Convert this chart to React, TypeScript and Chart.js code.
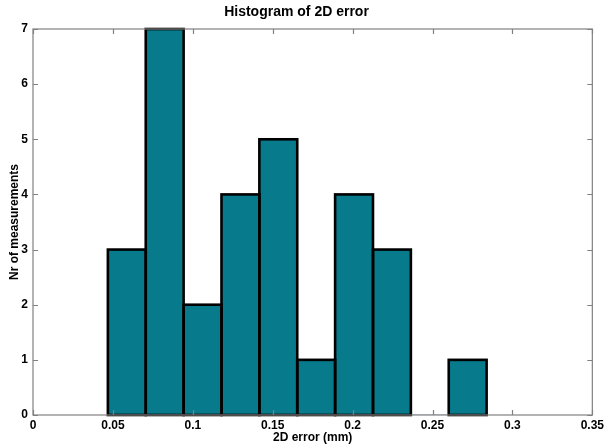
import React, { useEffect, useRef } from "react";
import { Chart, registerables } from "chart.js";

Chart.register(...registerables);

const binCenters = [0.0587, 0.0824, 0.1061, 0.1298, 0.1535, 0.1772, 0.2009, 0.2246, 0.2483, 0.2720];
const counts = [3, 7, 2, 4, 5, 1, 4, 3, 0, 1];
const xTicks = [0, 0.05, 0.1, 0.15, 0.2, 0.25, 0.3, 0.35];
const xTickLabels = ["0", "0.05", "0.1", "0.15", "0.2", "0.25", "0.3", "0.35"];
const yTicks = [0, 1, 2, 3, 4, 5, 6, 7];

const FONT = "'Liberation Sans', Arial, Helvetica, sans-serif";

const boxPlugin = {
  id: "matlabBox",
  afterDatasetsDraw(chart: any) {
    const ctx = chart.ctx;
    const meta = chart.getDatasetMeta(0);
    ctx.save();
    ctx.strokeStyle = "#000";
    ctx.lineWidth = 2.6;
    ctx.lineJoin = "miter";
    meta.data.forEach((el: any, i: number) => {
      if (!counts[i]) return;
      const p = el.getProps(["x", "y", "base", "width"], true);
      ctx.strokeRect(p.x - p.width / 2, p.y, p.width, p.base - p.y);
    });
    ctx.restore();
  },
  afterDraw(chart: any) {
    const { ctx, chartArea: a } = chart;
    const xs = chart.scales.x;
    const ys = chart.scales.y;
    ctx.save();
    ctx.strokeStyle = "#808080";
    ctx.lineWidth = 1.2;
    ctx.strokeRect(a.left, a.top, a.right - a.left, a.bottom - a.top);
    const L = 5;
    ctx.beginPath();
    xTicks.forEach((v) => {
      const px = Math.round(xs.getPixelForValue(v)) + 0.5;
      ctx.moveTo(px, a.bottom);
      ctx.lineTo(px, a.bottom - L);
      ctx.moveTo(px, a.top);
      ctx.lineTo(px, a.top + L);
    });
    yTicks.forEach((v) => {
      const py = Math.round(ys.getPixelForValue(v)) + 0.5;
      ctx.moveTo(a.left, py);
      ctx.lineTo(a.left + L, py);
      ctx.moveTo(a.right, py);
      ctx.lineTo(a.right - L, py);
    });
    ctx.stroke();
    ctx.restore();
  },
};

export default function App() {
  const ref = useRef<HTMLCanvasElement | null>(null);
  useEffect(() => {
    if (!ref.current) return;
    const chart = new Chart(ref.current, {
      type: "bar",
      data: {
        datasets: [
          {
            data: binCenters.map((x, i) => ({ x, y: counts[i] })),
            backgroundColor: "#077a8c",
            borderWidth: 0,
            barPercentage: 1,
            categoryPercentage: 1,
          },
        ],
      },
      options: {
        animation: false,
        responsive: false,
        maintainAspectRatio: false,
        layout: { padding: { left: 0, right: 14, top: 0, bottom: 0 } },
        plugins: {
          legend: { display: false },
          tooltip: { enabled: false },
          title: {
            display: true,
            text: "Histogram of 2D error",
            color: "#000",
            font: { family: FONT, size: 14, weight: "bold" },
            padding: { top: 4, bottom: 8.2 },
          },
        },
        scales: {
          x: {
            type: "linear",
            min: 0,
            max: 0.35,
            offset: false,
            grid: { display: false, drawTicks: false },
            border: { display: false },
            afterBuildTicks: (s: any) => {
              s.ticks = xTicks.map((v) => ({ value: v }));
            },
            afterFit: (s: any) => {
              s.height = 32;
            },
            ticks: {
              color: "#000",
              padding: 3,
              maxRotation: 0,
              autoSkip: false,
              font: { family: FONT, size: 12, weight: "bold" },
              callback: (v: any, i: number) => xTickLabels[i],
            },
            title: {
              display: true,
              text: "2D error (mm)",
              color: "#000",
              font: { family: FONT, size: 12, weight: "bold" },
              padding: { top: 2.5, bottom: 2.5 },
            },
          },
          y: {
            min: 0,
            max: 7,
            grid: { display: false, drawTicks: false },
            border: { display: false },
            afterBuildTicks: (s: any) => {
              s.ticks = yTicks.map((v) => ({ value: v }));
            },
            afterFit: (s: any) => {
              s.width = 33;
            },
            ticks: {
              color: "#000",
              padding: 5,
              autoSkip: false,
              font: { family: FONT, size: 12, weight: "bold" },
            },
            title: {
              display: true,
              text: "Nr of measurements",
              color: "#000",
              font: { family: FONT, size: 12, weight: "bold" },
              padding: { top: 7, bottom: 0 },
            },
          },
        },
      },
      plugins: [boxPlugin],
    } as any);
    return () => chart.destroy();
  }, []);
  return (
    <div style={{ position: "fixed", left: 0, top: 0, width: 607, height: 447, background: "#fff" }}>
      <canvas ref={ref} width={607} height={447} style={{ display: "block" }} />
    </div>
  );
}
